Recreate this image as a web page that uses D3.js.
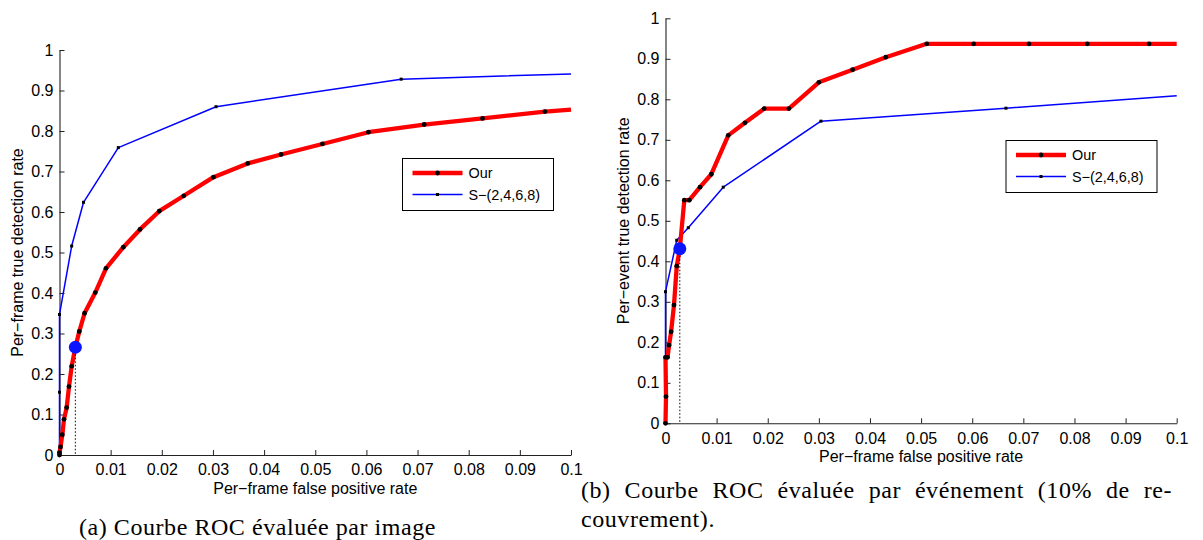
<!DOCTYPE html>
<html>
<head>
<meta charset="utf-8">
<script src="https://cdn.jsdelivr.net/npm/d3@7"></script>
<style>
  body { margin: 0; background: #fff; }
  svg { display: block; }
  .tick text { font-family: "Liberation Sans", Arial, sans-serif; font-size: 16px; fill: #000; }
  .lbl { font-family: "Liberation Sans", Arial, sans-serif; font-size: 16px; fill: #000; }
  .leg { font-family: "Liberation Sans", Arial, sans-serif; font-size: 14.4px; fill: #000; }
  .cap { font-family: "Liberation Serif", "Times New Roman", serif; font-size: 24px; fill: #000; }
</style>
</head>
<body>
<svg id="chart" width="1203" height="540"></svg>
<script>
// ---- data ----
var xTicks = [0, 0.01, 0.02, 0.03, 0.04, 0.05, 0.06, 0.07, 0.08, 0.09, 0.1];
var yTicks = [0, 0.1, 0.2, 0.3, 0.4, 0.5, 0.6, 0.7, 0.8, 0.9, 1];
var seriesNames = ['Our', 'S\u2212(2,4,6,8)'];

// (a) per image
var frameOurX = [0, 0, 0.0002, 0.00055, 0.00088, 0.0014, 0.00186, 0.00238, 0.0031, 0.00387, 0.0049, 0.007, 0.00909, 0.01248, 0.01574, 0.0195, 0.0243, 0.0301, 0.0368, 0.0433, 0.0514, 0.0604, 0.0713, 0.0827, 0.0949, 0.1];
var frameOurY = [0, 0.006, 0.02, 0.05, 0.088, 0.117, 0.169, 0.219, 0.266, 0.305, 0.35, 0.401, 0.461, 0.513, 0.557, 0.602, 0.64, 0.686, 0.72, 0.742, 0.768, 0.797, 0.816, 0.831, 0.848, 0.853];
var frameSX = [0, 0, 0, 0.00238, 0.0047, 0.0115, 0.0306, 0.0668, 0.1];
var frameSY = [0, 0.155, 0.347, 0.516, 0.624, 0.759, 0.86, 0.928, 0.941];
var frameOp = [0.0031, 0.266];

// (b) per event
var eventOurX = [0, 0.0001, 0, 0.0004, 0.0007, 0.0011, 0.00166, 0.0022, 0.0028, 0.00368, 0.00465, 0.00675, 0.00896, 0.01228, 0.01554, 0.0193, 0.02414, 0.03, 0.0366, 0.0431, 0.0511, 0.0603, 0.0711, 0.0825, 0.0946, 0.1];
var eventOurY = [0, 0.066, 0.163, 0.163, 0.193, 0.226, 0.292, 0.388, 0.431, 0.551, 0.551, 0.583, 0.615, 0.711, 0.742, 0.777, 0.777, 0.842, 0.873, 0.904, 0.937, 0.937, 0.937, 0.937, 0.937, 0.937];
var eventSX = [0, 0, 0, 0.0022, 0.00446, 0.0113, 0.0304, 0.0666, 0.1];
var eventSY = [0, 0.163, 0.325, 0.452, 0.483, 0.583, 0.746, 0.778, 0.809];
var eventOp = [0.0028, 0.431];

var captionA = '(a) Courbe ROC \u00e9valu\u00e9e par image';
var captionB1 = '(b) Courbe ROC \u00e9valu\u00e9e par \u00e9v\u00e9nement (10% de re-';
var captionB2 = 'couvrement).';

var svg = d3.select('#chart');

function zip(xs, ys) {
  return xs.map(function(x, i) { return [x, ys[i]]; });
}

function drawPanel(opt) {
  var x = d3.scaleLinear().domain([0, 0.1]).range([opt.x0, opt.x1]);
  var y = d3.scaleLinear().domain([0, 1]).range([opt.y0, opt.y1]);
  var g = svg.append('g');

  var xAxis = g.append('g').attr('transform', 'translate(0,' + opt.y0 + ')')
    .call(d3.axisBottom(x).tickValues(xTicks).tickSizeInner(-5).tickSizeOuter(0).tickPadding(9)
      .tickFormat(function(d) { return d3.format('~g')(+d.toFixed(2)); }));
  var yAxis = g.append('g').attr('transform', 'translate(' + opt.x0 + ',0)')
    .call(d3.axisLeft(y).tickValues(yTicks).tickSizeInner(-5).tickSizeOuter(0).tickPadding(6)
      .tickFormat(d3.format('~g')));
  [xAxis, yAxis].forEach(function(a) {
    a.select('.domain').attr('stroke', '#222').attr('stroke-width', 1.1);
    a.selectAll('.tick line').attr('stroke', '#222');
  });

  var line = d3.line().x(function(d) { return x(d[0]); }).y(function(d) { return y(d[1]); });
  var s = zip(opt.sx, opt.sy), o = zip(opt.ox, opt.oy);

  g.append('path').datum(s).attr('d', line).attr('fill', 'none')
    .attr('stroke', '#0000ff').attr('stroke-width', 1.5).attr('stroke-linejoin', 'round');
  g.selectAll('.sm').data(s.slice(0, -1)).enter().append('rect')
    .attr('x', function(d) { return x(d[0]) - 1.5; }).attr('y', function(d) { return y(d[1]) - 1.5; })
    .attr('width', 3).attr('height', 3).attr('fill', '#000');

  g.append('path').datum(o).attr('d', line).attr('fill', 'none')
    .attr('stroke', '#ff0000').attr('stroke-width', 4.3).attr('stroke-linejoin', 'round');
  g.selectAll('.om').data(o.slice(0, -1)).enter().append('circle')
    .attr('cx', function(d) { return x(d[0]); }).attr('cy', function(d) { return y(d[1]); })
    .attr('r', 2.4).attr('fill', '#000');

  // operating point
  g.append('line').attr('x1', x(opt.op[0])).attr('x2', x(opt.op[0]))
    .attr('y1', y(opt.op[1])).attr('y2', y(0))
    .attr('stroke', '#000').attr('stroke-width', 1).attr('stroke-dasharray', '1.5,2');
  g.append('circle').attr('cx', x(opt.op[0])).attr('cy', y(opt.op[1])).attr('r', 6.5)
    .attr('fill', '#0a14ff');

  // axis titles
  g.append('text').attr('class', 'lbl').attr('text-anchor', 'middle')
    .attr('x', (opt.x0 + opt.x1) / 2).attr('y', opt.y0 + 39).text(opt.xlabel);
  g.append('text').attr('class', 'lbl').attr('text-anchor', 'middle')
    .attr('transform', 'translate(' + (opt.x0 - 37) + ',' + ((opt.y0 + opt.y1) / 2) + ') rotate(-90)')
    .text(opt.ylabel);

  // legend
  var lg = g.append('g').attr('transform', 'translate(' + opt.leg[0] + ',' + opt.leg[1] + ')');
  lg.append('rect').attr('width', 151).attr('height', 52).attr('fill', '#fff')
    .attr('stroke', '#000').attr('stroke-width', 1);
  [{ c: '#ff0000', w: 4.3, yy: 14.5 }, { c: '#0000ff', w: 1.5, yy: 36 }].forEach(function(e, i) {
    lg.append('line').attr('x1', 10).attr('x2', 60).attr('y1', e.yy).attr('y2', e.yy)
      .attr('stroke', e.c).attr('stroke-width', e.w);
    if (i === 0) lg.append('circle').attr('cx', 35).attr('cy', e.yy).attr('r', 2.4).attr('fill', '#000');
    else lg.append('rect').attr('x', 33.5).attr('y', e.yy - 1.5).attr('width', 3).attr('height', 3).attr('fill', '#000');
    lg.append('text').attr('class', 'leg').attr('x', 66).attr('y', e.yy + 5)
      .text(seriesNames[i]);
  });
}

drawPanel({
  x0: 59.5, x1: 571, y0: 455, y1: 50,
  ox: frameOurX, oy: frameOurY, sx: frameSX, sy: frameSY, op: frameOp,
  xlabel: 'Per\u2212frame false positive rate',
  ylabel: 'Per\u2212frame true detection rate',
  leg: [402.5, 158.5]
});

drawPanel({
  x0: 665.5, x1: 1176.7, y0: 423.3, y1: 18.3,
  ox: eventOurX, oy: eventOurY, sx: eventSX, sy: eventSY, op: eventOp,
  xlabel: 'Per\u2212frame false positive rate',
  ylabel: 'Per\u2212event true detection rate',
  leg: [1006, 140.5]
});

// captions: stretch to the widths of the typeset original
var capA = svg.append('text').attr('class', 'cap').attr('x', 79).attr('y', 535).text(captionA);
var capB1 = svg.append('text').attr('class', 'cap').attr('x', 581).attr('y', 498).text(captionB1);
var capB2 = svg.append('text').attr('class', 'cap').attr('x', 581).attr('y', 527).text(captionB2);

var ls = (357 - capA.node().getComputedTextLength()) / captionA.length;
if (ls < 0) ls = 0;
[capA, capB1, capB2].forEach(function(t) { t.style('letter-spacing', ls + 'px'); });
var spaces = captionB1.split(' ').length - 1;
var ws = (591 - capB1.node().getComputedTextLength()) / spaces;
if (ws > 0) capB1.style('word-spacing', ws + 'px');
</script>
</body>
</html>
